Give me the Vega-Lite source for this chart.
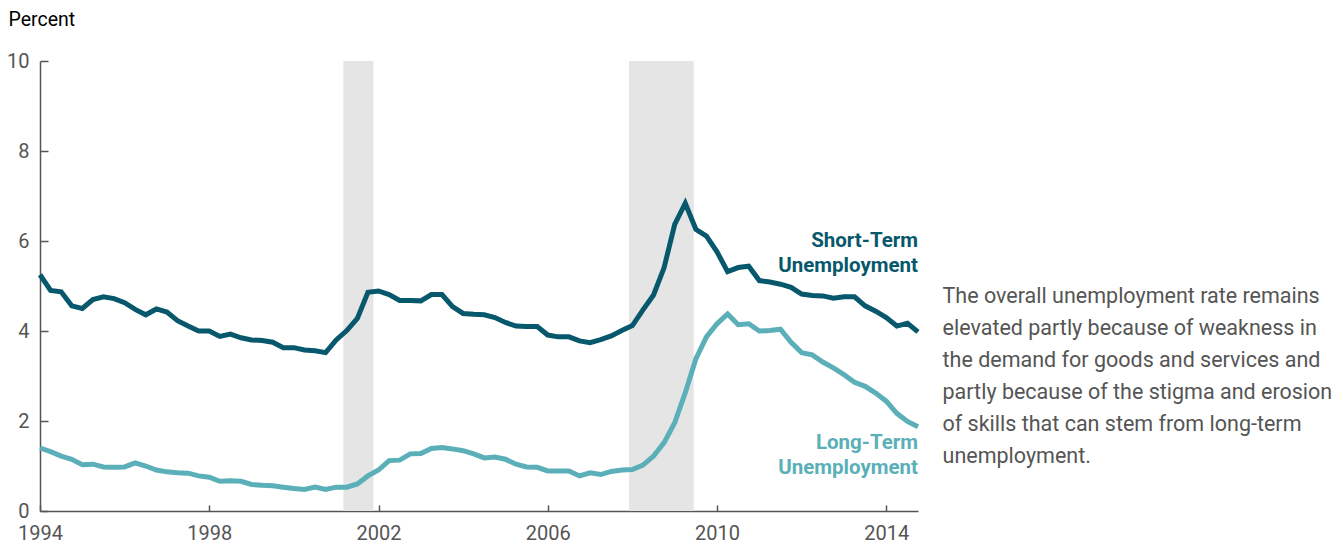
{
  "$schema": "https://vega.github.io/schema/vega-lite/v6.json",
  "width": 878,
  "height": 450,
  "autosize": {"type": "none"},
  "padding": {"left": 40, "top": 61, "right": 425, "bottom": 35},
  "config": {"view": {"stroke": null}, "font": "Roboto"},
  "datasets": {
    "rates": [
      {"t": 1994.00, "short": 5.25, "long": 1.40},
      {"t": 1994.25, "short": 4.90, "long": 1.32},
      {"t": 1994.50, "short": 4.87, "long": 1.22},
      {"t": 1994.75, "short": 4.56, "long": 1.15},
      {"t": 1995.00, "short": 4.50, "long": 1.03},
      {"t": 1995.25, "short": 4.70, "long": 1.04},
      {"t": 1995.50, "short": 4.76, "long": 0.98},
      {"t": 1995.75, "short": 4.72, "long": 0.97},
      {"t": 1996.00, "short": 4.63, "long": 0.98},
      {"t": 1996.25, "short": 4.48, "long": 1.07},
      {"t": 1996.50, "short": 4.36, "long": 1.00},
      {"t": 1996.75, "short": 4.49, "long": 0.91},
      {"t": 1997.00, "short": 4.42, "long": 0.87},
      {"t": 1997.25, "short": 4.23, "long": 0.85},
      {"t": 1997.50, "short": 4.11, "long": 0.84},
      {"t": 1997.75, "short": 4.00, "long": 0.78},
      {"t": 1998.00, "short": 4.00, "long": 0.75},
      {"t": 1998.25, "short": 3.88, "long": 0.66},
      {"t": 1998.50, "short": 3.93, "long": 0.67},
      {"t": 1998.75, "short": 3.85, "long": 0.66},
      {"t": 1999.00, "short": 3.80, "long": 0.59},
      {"t": 1999.25, "short": 3.79, "long": 0.57},
      {"t": 1999.50, "short": 3.75, "long": 0.56},
      {"t": 1999.75, "short": 3.63, "long": 0.53},
      {"t": 2000.00, "short": 3.63, "long": 0.50},
      {"t": 2000.25, "short": 3.58, "long": 0.48},
      {"t": 2000.50, "short": 3.56, "long": 0.53},
      {"t": 2000.75, "short": 3.52, "long": 0.48},
      {"t": 2001.00, "short": 3.80, "long": 0.53},
      {"t": 2001.25, "short": 4.01, "long": 0.53},
      {"t": 2001.50, "short": 4.28, "long": 0.60},
      {"t": 2001.75, "short": 4.86, "long": 0.78},
      {"t": 2002.00, "short": 4.89, "long": 0.91},
      {"t": 2002.25, "short": 4.81, "long": 1.12},
      {"t": 2002.50, "short": 4.68, "long": 1.13},
      {"t": 2002.75, "short": 4.68, "long": 1.27},
      {"t": 2003.00, "short": 4.67, "long": 1.28},
      {"t": 2003.25, "short": 4.81, "long": 1.39},
      {"t": 2003.50, "short": 4.81, "long": 1.41},
      {"t": 2003.75, "short": 4.54, "long": 1.38},
      {"t": 2004.00, "short": 4.39, "long": 1.34},
      {"t": 2004.25, "short": 4.37, "long": 1.27},
      {"t": 2004.50, "short": 4.36, "long": 1.18},
      {"t": 2004.75, "short": 4.30, "long": 1.20},
      {"t": 2005.00, "short": 4.19, "long": 1.15},
      {"t": 2005.25, "short": 4.11, "long": 1.04},
      {"t": 2005.50, "short": 4.10, "long": 0.98},
      {"t": 2005.75, "short": 4.10, "long": 0.97},
      {"t": 2006.00, "short": 3.91, "long": 0.89},
      {"t": 2006.25, "short": 3.87, "long": 0.89},
      {"t": 2006.50, "short": 3.87, "long": 0.89},
      {"t": 2006.75, "short": 3.78, "long": 0.78},
      {"t": 2007.00, "short": 3.74, "long": 0.85},
      {"t": 2007.25, "short": 3.81, "long": 0.81},
      {"t": 2007.50, "short": 3.89, "long": 0.88},
      {"t": 2007.75, "short": 4.01, "long": 0.91},
      {"t": 2008.00, "short": 4.12, "long": 0.92},
      {"t": 2008.25, "short": 4.47, "long": 1.02},
      {"t": 2008.50, "short": 4.80, "long": 1.22},
      {"t": 2008.75, "short": 5.41, "long": 1.52},
      {"t": 2009.00, "short": 6.37, "long": 1.96},
      {"t": 2009.25, "short": 6.84, "long": 2.63},
      {"t": 2009.50, "short": 6.26, "long": 3.38},
      {"t": 2009.75, "short": 6.11, "long": 3.87},
      {"t": 2010.00, "short": 5.76, "long": 4.16},
      {"t": 2010.25, "short": 5.32, "long": 4.38},
      {"t": 2010.50, "short": 5.41, "long": 4.14},
      {"t": 2010.75, "short": 5.44, "long": 4.16},
      {"t": 2011.00, "short": 5.12, "long": 4.00},
      {"t": 2011.25, "short": 5.09, "long": 4.01},
      {"t": 2011.50, "short": 5.04, "long": 4.04},
      {"t": 2011.75, "short": 4.97, "long": 3.75},
      {"t": 2012.00, "short": 4.82, "long": 3.52},
      {"t": 2012.25, "short": 4.79, "long": 3.47},
      {"t": 2012.50, "short": 4.78, "long": 3.31},
      {"t": 2012.75, "short": 4.73, "long": 3.18},
      {"t": 2013.00, "short": 4.76, "long": 3.03},
      {"t": 2013.25, "short": 4.76, "long": 2.86},
      {"t": 2013.50, "short": 4.56, "long": 2.77},
      {"t": 2013.75, "short": 4.44, "long": 2.62},
      {"t": 2014.00, "short": 4.30, "long": 2.44},
      {"t": 2014.25, "short": 4.11, "long": 2.17},
      {"t": 2014.50, "short": 4.17, "long": 1.99},
      {"t": 2014.75, "short": 3.98, "long": 1.87}
    ],
    "recessions": [
      {"start": 2001.17, "end": 2001.88},
      {"start": 2007.92, "end": 2009.45}
    ],
    "labels": [
      {"series": "short", "t": 2014.75, "v": 6.0, "label": "Short-Term\nUnemployment"},
      {"series": "long", "t": 2014.75, "v": 1.51, "label": "Long-Term\nUnemployment"}
    ],
    "note": [
      {"t": 2015.33, "v": 4.76, "label": "The overall unemployment rate remains\nelevated partly because of weakness in\nthe demand for goods and services and\npartly because of the stigma and erosion\nof skills that can stem from long-term\nunemployment."}
    ]
  },
  "layer": [
    {
      "data": {"name": "recessions"},
      "mark": {"type": "rect", "color": "#e5e5e5"},
      "encoding": {
        "x": {"field": "start", "type": "quantitative", "scale": {"domain": [1994, 2014.75], "nice": false, "zero": false}},
        "x2": {"field": "end"}
      }
    },
    {
      "data": {"name": "rates"},
      "transform": [{"fold": ["short", "long"], "as": ["series", "value"]}],
      "mark": {"type": "line", "strokeWidth": 5},
      "encoding": {
        "x": {
          "field": "t", "type": "quantitative",
          "scale": {"domain": [1994, 2014.75], "nice": false, "zero": false},
          "axis": {
            "values": [1994, 1998, 2002, 2006, 2010, 2014],
            "format": "d", "title": null, "grid": false,
            "labelFlush": false,
            "tickSize": -6, "labelPadding": 18,
            "domainColor": "#555555", "tickColor": "#555555", "domainWidth": 1.5, "tickWidth": 1.5,
            "labelColor": "#555555", "labelFontSize": 20, "labelBaseline": "top"
          }
        },
        "y": {
          "field": "value", "type": "quantitative",
          "scale": {"domain": [0, 10], "nice": false},
          "axis": {
            "values": [0, 2, 4, 6, 8, 10],
            "title": "Percent", "titleAngle": 0, "titleX": -32, "titleY": -42,
            "titleAlign": "left", "titleBaseline": "middle", "titleFontSize": 19.5,
            "titleFontWeight": "normal", "titleColor": "#000000",
            "grid": false,
            "tickSize": -8, "labelPadding": 19,
            "domainColor": "#555555", "tickColor": "#555555", "domainWidth": 1.5, "tickWidth": 1.5,
            "labelColor": "#555555", "labelFontSize": 20
          }
        },
        "color": {
          "field": "series", "type": "nominal",
          "scale": {"domain": ["short", "long"], "range": ["#07586c", "#5aafb8"]},
          "legend": null
        }
      }
    },
    {
      "data": {"name": "labels"},
      "mark": {"type": "text", "align": "right", "baseline": "middle", "lineBreak": "\n", "lineHeight": 25, "fontSize": 20.5, "fontWeight": "bold"},
      "encoding": {
        "x": {"field": "t", "type": "quantitative"},
        "y": {"field": "v", "type": "quantitative"},
        "text": {"field": "label"},
        "color": {"field": "series", "type": "nominal", "legend": null}
      }
    },
    {
      "data": {"name": "note"},
      "mark": {"type": "text", "align": "left", "baseline": "middle", "lineBreak": "\n", "lineHeight": 32, "fontSize": 21.5, "color": "#555555"},
      "encoding": {
        "x": {"field": "t", "type": "quantitative"},
        "y": {"field": "v", "type": "quantitative"},
        "text": {"field": "label"}
      }
    }
  ]
}
